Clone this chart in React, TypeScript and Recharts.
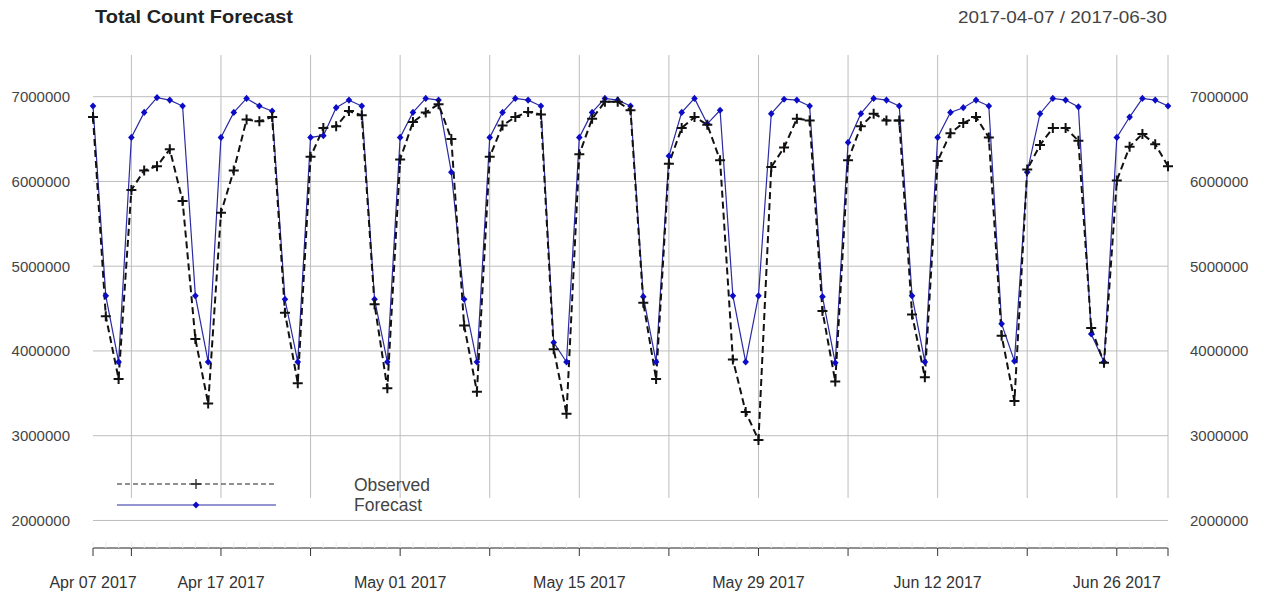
import { Line, LineChart, ReferenceLine, XAxis, YAxis } from "recharts";

const observed = [
  6760000, 4410000, 3670000, 5900000, 6130000, 6180000, 6380000, 5770000, 4140000, 3380000,
  5630000, 6130000, 6730000, 6710000, 6760000, 4450000, 3620000, 6290000, 6630000, 6650000,
  6830000, 6780000, 4550000, 3560000, 6260000, 6700000, 6815000, 6910000, 6500000, 4300000,
  3520000, 6290000, 6660000, 6760000, 6820000, 6790000, 4020000, 3260000, 6320000, 6740000,
  6940000, 6940000, 6840000, 4570000, 3670000, 6210000, 6630000, 6760000, 6670000, 6250000,
  3900000, 3280000, 2950000, 6170000, 6400000, 6740000, 6720000, 4470000, 3640000, 6250000,
  6650000, 6800000, 6720000, 6720000, 4430000, 3690000, 6240000, 6570000, 6690000, 6760000,
  6520000, 4180000, 3410000, 6140000, 6430000, 6630000, 6630000, 6480000, 4270000, 3860000,
  6010000, 6410000, 6560000, 6440000, 6180000,
];

const forecast = [
  6890000, 4650000, 3870000, 6520000, 6815000, 6990000, 6960000, 6890000, 4650000, 3870000,
  6520000, 6815000, 6980000, 6890000, 6830000, 4610000, 3870000, 6520000, 6540000, 6870000,
  6960000, 6890000, 4610000, 3870000, 6520000, 6815000, 6980000, 6960000, 6110000, 4610000,
  3870000, 6520000, 6815000, 6980000, 6960000, 6890000, 4100000, 3870000, 6520000, 6815000,
  6980000, 6960000, 6890000, 4640000, 3870000, 6300000, 6815000, 6980000, 6680000, 6840000,
  4650000, 3870000, 4650000, 6800000, 6970000, 6960000, 6890000, 4640000, 3860000, 6460000,
  6800000, 6980000, 6960000, 6890000, 4650000, 3870000, 6520000, 6815000, 6870000, 6960000,
  6890000, 4320000, 3880000, 6110000, 6800000, 6980000, 6960000, 6880000, 4200000, 3870000,
  6520000, 6760000, 6980000, 6960000, 6890000,
];

// day index 0 = 2017-04-07
const gridDays = [3, 10, 17, 24, 31, 38, 45, 52, 59, 66, 73, 80, 84];
const majorTickDays = [0, ...gridDays];
const labelDays = [0, 10, 24, 38, 52, 66, 80];
const yTicks = [2000000, 3000000, 4000000, 5000000, 6000000, 7000000];
const months = ["Jan", "Feb", "Mar", "Apr", "May", "Jun", "Jul", "Aug", "Sep", "Oct", "Nov", "Dec"];

const yDomain = [1675000, 7492000];
const vGridBottom = 2265000;

const FONT = '"Liberation Sans", Arial, sans-serif';
const BLUE_LINE = "#2a2aa4";
const BLUE_DOT = "#0c0cc8";
const GRID = "#bdbdbd";

const data = observed.map((v, i) => ({ day: i, observed: v, forecast: forecast[i] }));
const allDays = data.map((d) => d.day);

function dayLabel(day: number) {
  const d = new Date(Date.UTC(2017, 3, 7 + day));
  return `${months[d.getUTCMonth()]} ${String(d.getUTCDate()).padStart(2, "0")} ${d.getUTCFullYear()}`;
}

function PlusDot(props: any) {
  const { cx, cy } = props;
  if (cx == null || cy == null) return null;
  return (
    <path
      d={`M${cx - 5},${cy}H${cx + 5}M${cx},${cy - 5}V${cy + 5}`}
      stroke="#111"
      strokeWidth={2}
      fill="none"
    />
  );
}

function DiamondDot(props: any) {
  const { cx, cy } = props;
  if (cx == null || cy == null) return null;
  return (
    <path
      d={`M${cx},${cy - 3.6}L${cx + 3.3},${cy}L${cx},${cy + 3.6}L${cx - 3.3},${cy}Z`}
      fill={BLUE_DOT}
    />
  );
}

function DateTick(props: any) {
  const { x, y, payload } = props;
  const day = payload.value;
  return (
    <g>
      <line x1={x} x2={x} y1={y - 6} y2={y} stroke="#ececec" />
      {majorTickDays.includes(day) && <line x1={x} x2={x} y1={y} y2={y + 8} stroke="#333" />}
      {labelDays.includes(day) && (
        <text x={x} y={y + 40} textAnchor="middle" fontSize={16} fill="#333" fontFamily={FONT}>
          {dayLabel(day)}
        </text>
      )}
    </g>
  );
}

export default function App() {
  return (
    <div style={{ position: "absolute", left: 0, top: 0, width: 1261, height: 597, background: "#fff" }}>
      <LineChart width={1261} height={597} data={data} margin={{ top: 55, right: 0, bottom: 0, left: 0 }}>
        <XAxis
          dataKey="day"
          type="number"
          domain={[0, 84]}
          ticks={allDays}
          interval={0}
          height={49}
          tickSize={0}
          tickMargin={0}
          tickLine={false}
          axisLine={{ stroke: "#222" }}
          tick={<DateTick />}
        />
        <YAxis
          domain={yDomain}
          allowDataOverflow
          ticks={yTicks}
          width={93}
          axisLine={false}
          tickLine={false}
          tickMargin={17}
          tick={{ fontSize: 15, fill: "#444", fontFamily: FONT }}
        />
        <YAxis
          yAxisId="right"
          orientation="right"
          domain={yDomain}
          allowDataOverflow
          ticks={yTicks}
          width={93}
          axisLine={false}
          tickLine={false}
          tickMargin={16}
          tick={{ fontSize: 15, fill: "#444", fontFamily: FONT, textAnchor: "start" }}
        />
        {yTicks.map((t) => (
          <ReferenceLine key={t} y={t} stroke={GRID} />
        ))}
        {gridDays.map((d) => (
          <ReferenceLine
            key={d}
            segment={[
              { x: d, y: yDomain[1] },
              { x: d, y: vGridBottom },
            ]}
            stroke={GRID}
          />
        ))}
        <Line
          dataKey="forecast"
          stroke={BLUE_LINE}
          strokeWidth={1.2}
          dot={<DiamondDot />}
          activeDot={false}
          isAnimationActive={false}
        />
        <Line
          dataKey="observed"
          stroke="#111"
          strokeWidth={2}
          strokeDasharray="7 4"
          dot={<PlusDot />}
          activeDot={false}
          isAnimationActive={false}
        />
      </LineChart>
      <svg
        width={1261}
        height={597}
        style={{ position: "absolute", left: 0, top: 0, pointerEvents: "none" }}
        fontFamily={FONT}
      >
        <text x={95} y={23} fontSize={18} fontWeight="bold" fill="#222" textLength={198} lengthAdjust="spacingAndGlyphs">
          Total Count Forecast
        </text>
        <text x={958} y={23} fontSize={16.5} fill="#444" textLength={209} lengthAdjust="spacingAndGlyphs">
          2017-04-07 / 2017-06-30
        </text>
        <line x1={117} x2={274} y1={484} y2={484} stroke="#222" strokeDasharray="5 3" />
        <path d="M191,484H201M196,479V489" stroke="#222" strokeWidth={1.3} />
        <line x1={117} x2={276} y1={505} y2={505} stroke={BLUE_LINE} strokeWidth={1.2} />
        <path d="M196,501.5L199.3,505L196,508.5L192.7,505Z" fill={BLUE_DOT} />
        <text x={354} y={491} fontSize={17.5} fill="#444">
          Observed
        </text>
        <text x={354} y={511} fontSize={17.5} fill="#444">
          Forecast
        </text>
      </svg>
    </div>
  );
}
